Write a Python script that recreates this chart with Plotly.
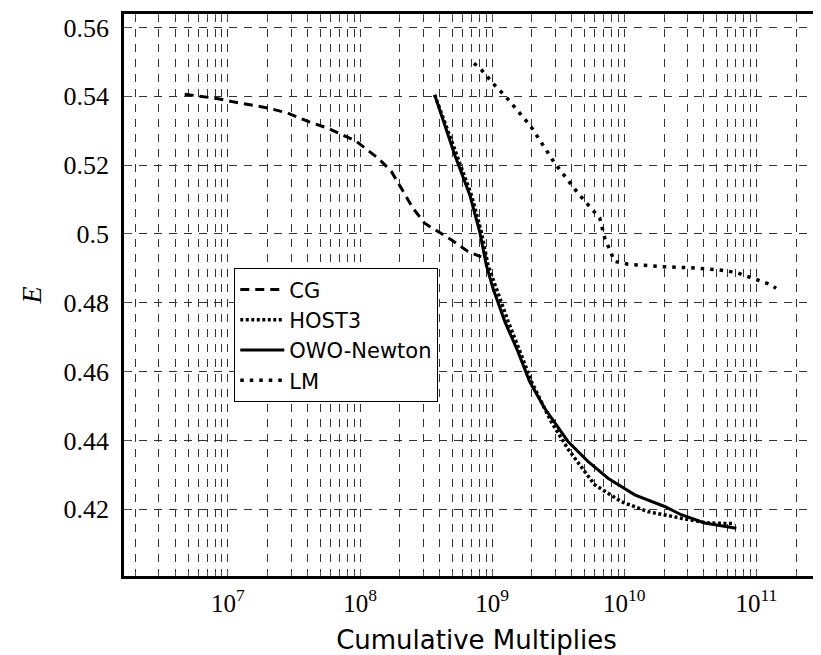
import plotly.graph_objects as go

# ---------------- data ----------------
cg_x = [4.70e6, 6.67e6, 8.4e6, 1.12e7, 2.0e7, 2.84e7, 4.04e7, 5.71e7, 9.35e7,
        1.37e8, 1.72e8, 2.05e8, 2.51e8, 3.08e8, 3.89e8, 4.9e8, 6.56e8, 8.26e8]
cg_y = [0.5406, 0.5397, 0.5393, 0.5383, 0.5366, 0.5351, 0.5327, 0.5307, 0.5269,
        0.5220, 0.5182, 0.5133, 0.5075, 0.5031, 0.5007, 0.4983, 0.4949, 0.4933]

host3_x = [3.67e8, 5.35e8, 6.95e8, 8.26e8, 9.29e8, 1.074e9, 1.32e9, 1.66e9, 1.98e9,
           2.79e9, 3.75e9, 5.01e9, 5.97e9, 9.5e9, 1.51e10, 2.69e10, 4.3e10, 6.85e10]
host3_y = [0.5404, 0.5230, 0.5114, 0.5007, 0.4910, 0.4842, 0.4746, 0.4649, 0.4571,
           0.4455, 0.4375, 0.4310, 0.4271, 0.4222, 0.4193, 0.4174, 0.4160, 0.4158]

owo_x = [3.67e8, 5.2e8, 6.76e8, 8.04e8, 9.02e8, 1.014e9, 1.245e9, 1.567e9, 1.92e9,
         2.49e9, 3.75e9, 5.31e9, 7.53e9, 1.2e10, 2.02e10, 2.7e10, 4.06e10, 5.6e10, 7.05e10]
owo_y = [0.5404, 0.5230, 0.5114, 0.5007, 0.4910, 0.4842, 0.4746, 0.4658, 0.4571,
         0.4494, 0.4397, 0.4339, 0.4290, 0.4242, 0.4208, 0.4184, 0.4160, 0.4150, 0.4145]

lm_x = [7.28e8, 8.28e8, 9.16e8, 1.01e9, 1.28e9, 1.95e9, 2.97e9, 4.47e9, 6.52e9,
        7.11e9, 8.45e9, 1.07e10, 1.9e10, 3.03e10, 5.12e10, 7.05e10, 9.42e10, 1.3e11, 1.41e11]
lm_y = [0.5496, 0.5477, 0.5458, 0.5438, 0.5397, 0.5314, 0.5206, 0.5118, 0.5046,
        0.4988, 0.4920, 0.4912, 0.4905, 0.4902, 0.4896, 0.4888, 0.4871, 0.4852, 0.4842]

x_major_vals = [1e7, 1e8, 1e9, 1e10, 1e11]
x_major_text = ["10<sup>7</sup>", "10<sup>8</sup>", "10<sup>9</sup>",
                "10<sup>10</sup>", "10<sup>11</sup>"]
x_minor_vals = [m * 10 ** e for e in range(6, 12) for m in range(2, 10)]
y_tick_vals = [0.42, 0.44, 0.46, 0.48, 0.50, 0.52, 0.54, 0.56]
y_tick_text = ["0.42", "0.44", "0.46", "0.48", "0.5", "0.52", "0.54", "0.56"]

# ---------------- figure ----------------
fig = go.Figure()
fig.add_trace(go.Scatter(x=cg_x, y=cg_y, mode="lines", name="CG",
                         line=dict(color="black", width=3, dash="9px,6px")))
fig.add_trace(go.Scatter(x=host3_x, y=host3_y, mode="lines", name="HOST3",
                         line=dict(color="black", width=3.5, dash="3px,2.5px")))
fig.add_trace(go.Scatter(x=owo_x, y=owo_y, mode="lines", name="OWO-Newton",
                         line=dict(color="black", width=3)))
fig.add_trace(go.Scatter(x=lm_x, y=lm_y, mode="lines", name="LM",
                         line=dict(color="black", width=3.5, dash="3.5px,6px")))

grid_col = "#333333"
grid_dash = "8px,7px"

fig.update_layout(
    template="none",
    width=821, height=655,
    margin=dict(l=116, r=0, t=6, b=87, autoexpand=False),
    paper_bgcolor="white", plot_bgcolor="white",
    showlegend=True,
    legend=dict(x=0.156, y=0.548, xanchor="left", yanchor="top",
                bgcolor="white", bordercolor="black", borderwidth=1.3,
                font=dict(family="DejaVu Sans", size=21, color="black"),
                itemwidth=44, tracegroupgap=0),
    xaxis=dict(
        type="log", range=[6.2127, 11.55], automargin=False,
        tickmode="array", tickvals=x_major_vals, ticktext=x_major_text,
        ticks="inside", ticklen=6, tickwidth=1, tickcolor="#555555",
        showgrid=True, gridcolor=grid_col, gridwidth=1, griddash=grid_dash,
        minor=dict(tickmode="array", tickvals=x_minor_vals, ticks="inside",
                   ticklen=4, tickwidth=1, tickcolor="#555555",
                   showgrid=True, gridcolor=grid_col, gridwidth=1, griddash=grid_dash),
        showline=True, linecolor="black", linewidth=2.5, mirror="allticks",
        zeroline=False,
        tickfont=dict(family="Liberation Serif", size=25, color="black"),
        ticklabelstandoff=3,
        title=dict(text="Cumulative Multiplies",
                   font=dict(family="DejaVu Sans", size=26, color="black"),
                   standoff=16),
    ),
    yaxis=dict(
        range=[0.4006, 0.5639], automargin=False,
        tickmode="array", tickvals=y_tick_vals, ticktext=y_tick_text,
        ticks="inside", ticklen=6, tickwidth=1, tickcolor="#555555",
        showgrid=True, gridcolor=grid_col, gridwidth=1, griddash=grid_dash,
        showline=True, linecolor="black", linewidth=2.5, mirror=False,
        zeroline=False,
        tickfont=dict(family="Liberation Serif", size=26, color="black"),
        ticklabelstandoff=7,
        title=dict(text="<i>E</i>",
                   font=dict(family="Liberation Serif", size=28, color="black"),
                   standoff=14),
    ),
)

fig.write_html("out.html")
